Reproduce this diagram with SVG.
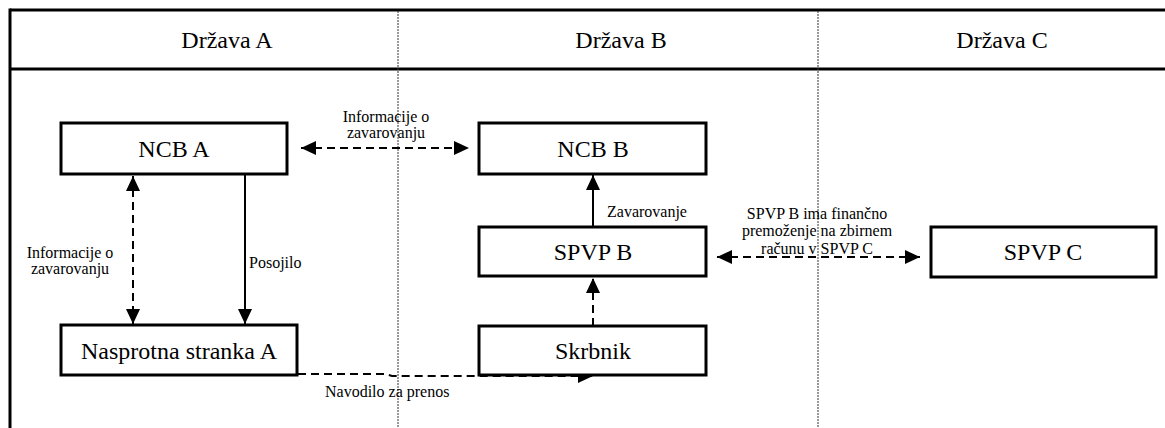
<svg xmlns="http://www.w3.org/2000/svg" width="1165" height="428" viewBox="0 0 1165 428">
<defs>
<marker id="ah" viewBox="0 0 15 14" refX="15" refY="7" markerWidth="15" markerHeight="14" orient="auto-start-reverse" markerUnits="userSpaceOnUse">
<path d="M0,0 L15,7 L0,14 z" fill="#000"/>
</marker>
</defs>
<rect width="1165" height="428" fill="#fff"/>
<g id="frame">
<g stroke="#000" stroke-width="3" fill="none">
<line x1="10" y1="10" x2="1165" y2="10"/>
<line x1="10" y1="69" x2="1165" y2="69"/>
<line x1="10" y1="8.5" x2="10" y2="428"/>
</g>
<g stroke="#333" stroke-width="1" stroke-dasharray="2,1" fill="none">
<line x1="398" y1="11" x2="398" y2="428"/>
<line x1="818" y1="11" x2="818" y2="428"/>
</g>
<text x="227" y="48" font-size="24" text-anchor="middle" font-family="Liberation Serif">Država A</text>
<text x="621" y="48" font-size="24" text-anchor="middle" font-family="Liberation Serif">Država B</text>
<text x="1002" y="48" font-size="24" text-anchor="middle" font-family="Liberation Serif">Država C</text>
</g>
<g id="connectors">
<g stroke="#000" stroke-width="2" fill="none">
<line x1="245" y1="175" x2="245" y2="324" marker-end="url(#ah)"/>
<line x1="593" y1="227" x2="593" y2="175" marker-end="url(#ah)"/>
<g stroke-dasharray="8,5">
<line x1="301" y1="148" x2="469" y2="148" marker-start="url(#ah)" marker-end="url(#ah)"/>
<line x1="133" y1="176" x2="133" y2="324" marker-start="url(#ah)" marker-end="url(#ah)"/>
<path d="M298,374 L386,374 L392,376 L593,376" marker-end="url(#ah)"/>
<line x1="593" y1="326" x2="593" y2="278" marker-end="url(#ah)"/>
<line x1="717" y1="257" x2="920" y2="257" marker-start="url(#ah)" marker-end="url(#ah)"/>
</g>
</g>
<text x="386" y="122" font-size="16" text-anchor="middle" font-family="Liberation Serif">Informacije o</text>
<text x="386" y="138" font-size="16" text-anchor="middle" font-family="Liberation Serif">zavarovanju</text>
<text x="70" y="258" font-size="16" text-anchor="middle" font-family="Liberation Serif">Informacije o</text>
<text x="70" y="274" font-size="16" text-anchor="middle" font-family="Liberation Serif">zavarovanju</text>
<text x="249" y="268" font-size="16" font-family="Liberation Serif">Posojilo</text>
<text x="325" y="397" font-size="16" font-family="Liberation Serif">Navodilo za prenos</text>
<text x="607" y="217" font-size="16" font-family="Liberation Serif">Zavarovanje</text>
<text x="817" y="219" font-size="16" text-anchor="middle" font-family="Liberation Serif">SPVP B ima finančno</text>
<text x="817" y="236" font-size="16" text-anchor="middle" font-family="Liberation Serif">premoženje na zbirnem</text>
<text x="817" y="254" font-size="16" text-anchor="middle" font-family="Liberation Serif">računu v SPVP C</text>
</g>
<g id="nodes">
<g id="ncb-a"><rect x="61" y="123" width="226" height="51" fill="#fff" stroke="#000" stroke-width="3"/><text x="174" y="157" font-size="24" text-anchor="middle" font-family="Liberation Serif">NCB A</text></g>
<g id="ncb-b"><rect x="479" y="123" width="227" height="51" fill="#fff" stroke="#000" stroke-width="3"/><text x="593" y="157" font-size="24" text-anchor="middle" font-family="Liberation Serif">NCB B</text></g>
<g id="spvp-b"><rect x="479" y="227" width="227" height="49" fill="#fff" stroke="#000" stroke-width="3"/><text x="593" y="260" font-size="24" text-anchor="middle" font-family="Liberation Serif">SPVP B</text></g>
<g id="skrbnik"><rect x="479" y="326" width="227" height="49" fill="#fff" stroke="#000" stroke-width="3"/><text x="593" y="359" font-size="24" text-anchor="middle" font-family="Liberation Serif">Skrbnik</text></g>
<g id="nasprotna-a"><rect x="61" y="325" width="236" height="50" fill="#fff" stroke="#000" stroke-width="3"/><text x="179" y="359" font-size="24" text-anchor="middle" font-family="Liberation Serif">Nasprotna stranka A</text></g>
<g id="spvp-c"><rect x="931" y="227" width="225" height="50" fill="#fff" stroke="#000" stroke-width="3"/><text x="1043" y="260" font-size="24" text-anchor="middle" font-family="Liberation Serif">SPVP C</text></g>
</g>
</svg>
